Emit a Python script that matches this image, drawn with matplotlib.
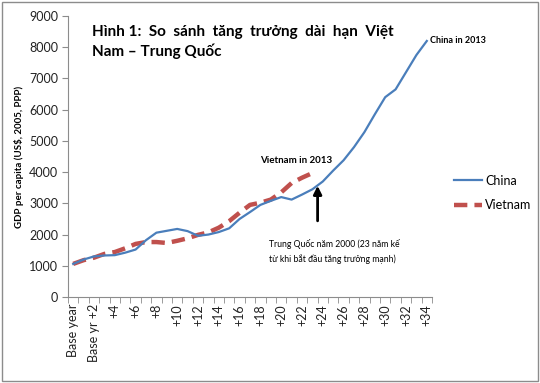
import matplotlib
matplotlib.use("Agg")
import matplotlib.pyplot as plt
from matplotlib.patches import Rectangle
import numpy as np

# ---- data ----
tick_labels = ["Base year", "Base yr +2"] + [f"+{k}" for k in range(4, 35, 2)]
china = [1060, 1200, 1300, 1330, 1340, 1420, 1520, 1820, 2060, 2120,
         2180, 2110, 1960, 2000, 2080, 2200, 2500, 2720, 2950, 3080,
         3200, 3120, 3280, 3450, 3700, 4050, 4380, 4800, 5280, 5850,
         6400, 6650, 7200, 7750, 8200]
vietnam = [1060, 1180, 1260, 1380, 1440, 1560, 1700, 1760, 1760, 1730,
           1800, 1880, 1990, 2070, 2220, 2430, 2700, 2950, 3020, 3120,
           3350, 3650, 3820, 3970]
series_names = ["China", "Vietnam"]
title_text = "Hình 1:  So  sánh  tăng  trưởng  dài  hạn  Việt\nNam – Trung Quốc"
ylabel_text = "GDP per capita (US$, 2005, PPP)"
ann_china = "China in 2013"
ann_vn = "Vietnam in 2013"
ann_note = "Trung Quốc năm 2000 (23 năm kế\ntừ khi bắt đầu tăng trưởng mạnh)"

plt.rcParams['font.family'] = ['Lato', 'DejaVu Sans']

fig = plt.figure(figsize=(5.4, 3.83), dpi=100)
fig.patches.append(Rectangle((0.004, 0.006), 0.992, 0.988, transform=fig.transFigure,
                             fill=False, edgecolor="#8c8c8c", linewidth=1.0))
ax = fig.add_axes([68/540, 1 - 297/383, (432-68)/540, (297-16)/383])

xc = np.arange(len(china))
xv = np.arange(len(vietnam))
ax.plot(xc, china, color="#4A7EBB", lw=1.6, label=series_names[0], zorder=3)
ax.plot(xv, vietnam, color="#C0504D", lw=3.2, ls=(0, (3, 1.6)), label=series_names[1], zorder=2)

ax.set_xlim(-0.5, len(china) - 0.5)
ax.set_ylim(0, 9000)
ax.set_yticks(np.arange(0, 9001, 1000))
ax.set_xticks(np.arange(0, len(china), 2))
ax.set_xticklabels(tick_labels, rotation=90, fontsize=9, color="#222222")
ax.set_xticks(np.arange(-0.5, len(china), 1), minor=True)
ax.tick_params(axis='x', which='major', length=0, pad=5)
ax.tick_params(axis='x', which='minor', length=4, color="#8c8c8c", direction='out')
ax.tick_params(axis='y', length=4, color="#8c8c8c", labelsize=9, labelcolor="#222222", pad=3)
for s in ["top", "right"]:
    ax.spines[s].set_visible(False)
for s in ["left", "bottom"]:
    ax.spines[s].set_color("#8c8c8c")
    ax.spines[s].set_linewidth(0.8)

ax.set_ylabel(ylabel_text, fontsize=7, fontweight='bold', labelpad=4)

fig.text(92/540, 1 - 25/383, title_text, fontsize=11, fontweight='bold',
         va='top', ha='left', linespacing=1.35)

ax.annotate(ann_china, xy=(34.3, 8200), xytext=(34.3, 8200), fontsize=6.5,
            fontweight='bold', va='center', ha='left', annotation_clip=False)
ax.text(18.0, 4380, ann_vn, fontsize=7, fontweight='bold', va='center', ha='left')
ax.annotate("", xy=(23.5, 3650), xytext=(23.5, 2350),
            arrowprops=dict(arrowstyle='-|>', color='black', lw=2, mutation_scale=12))
ax.text(18.8, 1850, ann_note, fontsize=6.2, va='top', ha='left', linespacing=1.6)

leg = ax.legend(loc='center left', bbox_to_anchor=(1.03, 0.37), frameon=False,
                fontsize=9, handlelength=2.2, labelspacing=1.0, handletextpad=0.3)

fig.savefig("out.png", dpi=100)
